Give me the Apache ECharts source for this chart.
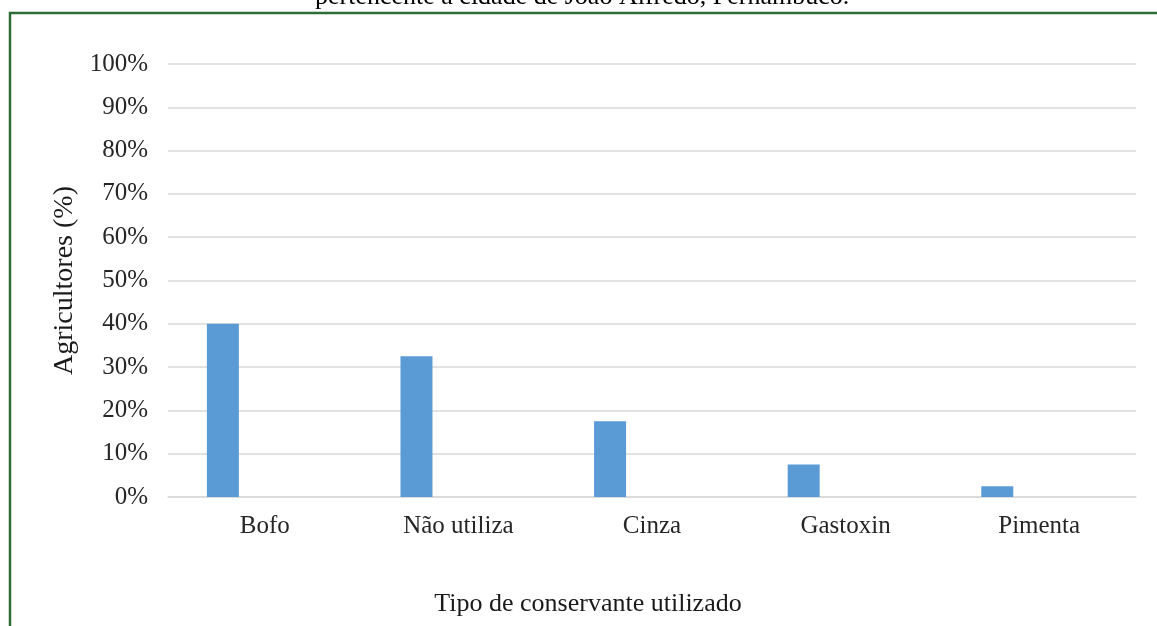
<!DOCTYPE html>
<html>
<head>
<meta charset="utf-8">
<script src="https://cdn.jsdelivr.net/npm/echarts@6/dist/echarts.min.js"></script>
<style>
  html, body { margin: 0; padding: 0; background: #fff; }
  #chart { width: 1157px; height: 626px; }
</style>
</head>
<body>
<div id="chart"></div>
<script>
const categories = ['Bofo', 'Não utiliza', 'Cinza', 'Gastoxin', 'Pimenta']
const agricultores = [40, 32.5, 17.5, 7.5, 2.5]
const empty = [null, null, null, null, null] // 2a série vazia do Excel
const yTicks = [0, 10, 20, 30, 40, 50, 60, 70, 80, 90, 100]

const serif = '"Liberation Serif", "Times New Roman", serif'

const chart = echarts.init(document.getElementById('chart'))

chart.setOption({
  backgroundColor: '#fff',
  animation: false,
  grid: { left: 168, right: 21, top: 64, bottom: 129 },
  graphic: [
    {
      type: 'rect',
      shape: { x: 10, y: 13, width: 1300, height: 800 },
      style: { fill: 'none', stroke: '#2f6b34', lineWidth: 2.5 },
      silent: true
    },
    {
      type: 'text',
      left: 315,
      top: -16,
      style: {
        text: 'pertencente à cidade de João Alfredo, Pernambuco.',
        font: '26px ' + serif,
        fill: '#000'
      },
      silent: true
    }
  ],
  xAxis: {
    type: 'category',
    data: categories,
    name: 'Tipo de conservante utilizado',
    nameLocation: 'middle',
    nameGap: 94,
    nameTextStyle: {
      fontFamily: serif, fontSize: 26, color: '#1a1a1a',
      padding: [0, 128, 0, 0]
    },
    axisLine: { lineStyle: { color: '#d9d9d9', width: 1.5 } },
    axisTick: { show: false },
    axisLabel: { fontFamily: serif, fontSize: 25, color: '#262626', margin: 17 }
  },
  yAxis: {
    type: 'value',
    min: yTicks[0],
    max: yTicks[yTicks.length - 1],
    interval: 10,
    name: 'Agricultores (%)',
    nameLocation: 'middle',
    nameGap: 88,
    nameTextStyle: { fontFamily: serif, fontSize: 28, color: '#1a1a1a' },
    axisLine: { show: false },
    axisTick: { show: false },
    splitLine: { lineStyle: { color: '#d9d9d9', width: 1.5 } },
    axisLabel: {
      fontFamily: serif,
      fontSize: 25,
      color: '#262626',
      margin: 20,
      formatter: v => v + '%'
    }
  },
  series: [
    {
      type: 'bar',
      data: agricultores,
      barWidth: 32,
      barGap: '162%',
      itemStyle: { color: '#5b9bd5' }
    },
    {
      type: 'bar',
      data: empty,
      barWidth: 32,
      itemStyle: { color: '#ed7d31' }
    }
  ]
})
</script>
</body>
</html>
